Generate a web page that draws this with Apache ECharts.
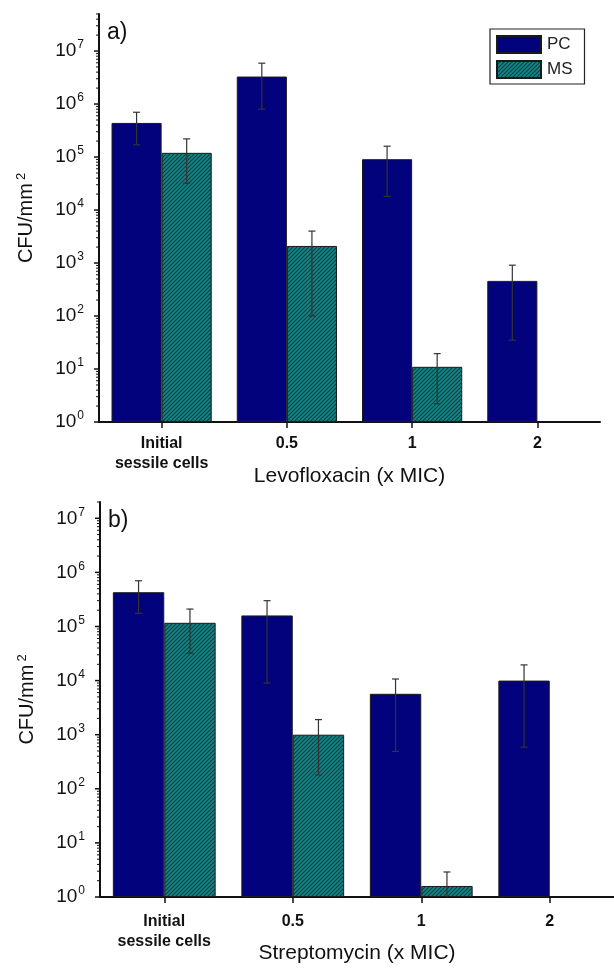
<!DOCTYPE html>
<html>
<head>
<meta charset="utf-8">
<script src="https://cdn.jsdelivr.net/npm/echarts@6/dist/echarts.min.js"></script>
<style>
html,body{margin:0;padding:0;background:#fff;}
#c{width:614px;height:968px;}
</style>
</head>
<body>
<div id="c"></div>
<script>
// ---- data ----
var categories = ['Initial\nsessile cells', '0.5', '1', '2'];
var seriesNames = ['PC', 'MS'];
var levoPC      = [4.4e5, 3.3e6, 9.1e4, 460];
var levoPCLow   = [1.7e5, 8.0e5, 1.8e4, 35];
var levoPCHigh  = [7.0e5, 5.9e6, 1.6e5, 910];
var levoMS      = [1.2e5, 2.1e3, 11, null];
var levoMSLow   = [3.2e4, 100, 2.2, null];
var levoMSHigh  = [2.2e5, 4.0e3, 19.5, null];
var strepPC     = [4.3e5, 1.6e5, 5.7e3, 1.0e4];
var strepPCLow  = [1.75e5, 9.0e3, 490, 590];
var strepPCHigh = [7.0e5, 3.0e5, 1.07e4, 1.95e4];
var strepMS     = [1.17e5, 1.0e3, 1.6, null];
var strepMSLow  = [3.2e4, 180, 0.4, null];
var strepMSHigh = [2.1e5, 1.9e3, 2.9, null];
var xNames = ['Levofloxacin (x MIC)', 'Streptomycin (x MIC)'];
var yNameBase = 'CFU/mm';
var yNameSup = '2';
var panelLabels = ['a)', 'b)'];
var yMax = [5e7, 2e7];

// ---- styles ----
var FONT = 'Liberation Sans, Arial, sans-serif';
var pcColor = '#02027c';
var pat = document.createElement('canvas');
pat.width = 4; pat.height = 4;
var g = pat.getContext('2d');
g.fillStyle = '#178585'; g.fillRect(0, 0, 4, 4);
g.strokeStyle = '#0b3f45'; g.lineWidth = 1.1;
g.beginPath();
g.moveTo(0, 4); g.lineTo(4, 0);
g.moveTo(-1, 1); g.lineTo(1, -1);
g.moveTo(3, 5); g.lineTo(5, 3);
g.stroke();
var msColor = { image: pat, repeat: 'repeat' };

var grids = [
  { left: 99, right: 14, top: 14, height: 408, outerBoundsMode: 'none', containLabel: false },
  { left: 100, right: 0, top: 502, height: 395, outerBoundsMode: 'none', containLabel: false }
];

function tickValues(max) {
  var major = [], minor = [];
  for (var k = 0; k <= 7; k++) {
    var p = Math.pow(10, k);
    if (p <= max) major.push(p);
    for (var m = 2; m <= 9; m++) { if (m * p <= max * 1.0001) minor.push(m * p); }
  }
  return { major: major, minor: minor };
}

function yLabel(v) {
  var l = Math.log10(v), e = Math.round(l);
  if (Math.abs(l - e) > 1e-6) return '';
  return '{b|10}{s|' + e + '}';
}

var xAxes = [], yAxes = [], series = [];
[0, 1].forEach(function (i) {
  xAxes.push({
    type: 'category', gridIndex: i, data: categories, boundaryGap: true,
    name: xNames[i], nameLocation: 'middle', nameGap: i === 0 ? 44 : 46, nameMoveOverlap: false,
    nameTextStyle: { fontFamily: FONT, fontSize: 21, color: '#111' },
    axisLine: { lineStyle: { color: '#111', width: 2 } },
    axisTick: { show: true, alignWithLabel: true, length: 6, lineStyle: { color: '#111', width: 1.5 } },
    axisLabel: { fontFamily: FONT, fontSize: 16, fontWeight: 'bold', color: '#111', margin: i === 0 ? 12 : 15, lineHeight: 20, interval: 0 },
    splitLine: { show: false }
  });
  yAxes.push({
    type: 'log', gridIndex: i, logBase: 10, min: 1, max: yMax[i],
    name: '{n|' + yNameBase + '}{s|' + yNameSup + '}', nameLocation: 'middle', nameGap: 61, nameRotate: 90, nameMoveOverlap: false,
    nameTextStyle: {
      fontFamily: FONT, fontSize: 20, color: '#111',
      rich: {
        n: { fontFamily: FONT, fontSize: 20, color: '#111' },
        s: { fontFamily: FONT, fontSize: 13, color: '#111', padding: [0, 0, 10, 3] }
      }
    },
    axisLine: { show: true, lineStyle: { color: '#111', width: 2 } },
    axisTick: { show: false },
    splitLine: { show: false },
    axisLabel: {
      formatter: yLabel, margin: 15,
      rich: {
        b: { fontFamily: FONT, fontSize: 19, color: '#111' },
        s: { fontFamily: FONT, fontSize: 12, color: '#111', padding: [0, 0, 12, 1] }
      }
    }
  });
});

var sets = [
  [levoPC, levoPCLow, levoPCHigh, levoMS, levoMSLow, levoMSHigh],
  [strepPC, strepPCLow, strepPCHigh, strepMS, strepMSLow, strepMSHigh]
];

function errSeries(i, low, high, side) {
  var d = [];
  for (var k = 0; k < low.length; k++) if (low[k] != null) d.push([k, low[k], high[k]]);
  return {
    type: 'custom', xAxisIndex: i, yAxisIndex: i, z: 5, clip: false, silent: true,
    data: d,
    renderItem: function (params, api) {
      var band = api.size([1, 0])[0];
      var cx = api.coord([api.value(0), 1])[0] + side * band * 0.2;
      var cs = params.coordSys;
      var yb = cs.y + cs.height;
      var y1 = Math.min(api.coord([api.value(0), api.value(1)])[1], yb);
      var y2 = api.coord([api.value(0), api.value(2)])[1];
      var st = { stroke: '#333', lineWidth: 1.2 };
      var ch = [
        { type: 'line', shape: { x1: cx, y1: y1, x2: cx, y2: y2 }, style: st },
        { type: 'line', shape: { x1: cx - 3.5, y1: y2, x2: cx + 3.5, y2: y2 }, style: st }
      ];
      if (y1 < yb - 0.5) ch.push({ type: 'line', shape: { x1: cx - 3.5, y1: y1, x2: cx + 3.5, y2: y1 }, style: st });
      return { type: 'group', children: ch };
    }
  };
}

[0, 1].forEach(function (i) {
  var s = sets[i];
  series.push({
    name: 'PC', type: 'bar', xAxisIndex: i, yAxisIndex: i, data: s[0],
    barGap: '0%', barCategoryGap: '20%',
    itemStyle: { color: pcColor, borderColor: '#1a1a1a', borderWidth: 1 }
  });
  series.push({
    name: 'MS', type: 'bar', xAxisIndex: i, yAxisIndex: i, data: s[3],
    barGap: '0%', barCategoryGap: '20%',
    itemStyle: { color: msColor, borderColor: '#1a1a1a', borderWidth: 1 }
  });
  series.push(errSeries(i, s[1], s[2], -1));
  series.push(errSeries(i, s[4], s[5], 1));
  var tv = tickValues(yMax[i]);
  var td = tv.major.map(function (v) { return [0, v, 5]; }).concat(tv.minor.map(function (v) { return [0, v, 3]; }));
  series.push({
    type: 'custom', xAxisIndex: i, yAxisIndex: i, clip: false, silent: true, z: 10,
    data: td,
    renderItem: function (params, api) {
      var cs = params.coordSys;
      var y = api.coord([0, api.value(1)])[1];
      var len = api.value(2);
      return { type: 'line', shape: { x1: cs.x - len, y1: y, x2: cs.x, y2: y }, style: { stroke: '#111', lineWidth: len > 4 ? 1.5 : 1 } };
    }
  });
});

var chart = echarts.init(document.getElementById('c'), null, { renderer: 'canvas' });
chart.setOption({
  animation: false,
  backgroundColor: '#fff',
  grid: grids,
  xAxis: xAxes,
  yAxis: yAxes,
  legend: {
    data: seriesNames, orient: 'vertical', left: 490, top: 29,
    padding: [6, 12, 5, 6], itemGap: 6, itemWidth: 44, itemHeight: 17,
    borderColor: '#222', borderWidth: 1.2, icon: 'rect',
    textStyle: { fontFamily: FONT, fontSize: 17, color: '#222', padding: [0, 0, 0, 1] }
  },
  graphic: [
    { type: 'text', left: 107, top: 21, style: { text: panelLabels[0], font: '23px ' + FONT, fill: '#111' } },
    { type: 'text', left: 108, top: 509, style: { text: panelLabels[1], font: '23px ' + FONT, fill: '#111' } }
  ],
  series: series
});
</script>
</body>
</html>
